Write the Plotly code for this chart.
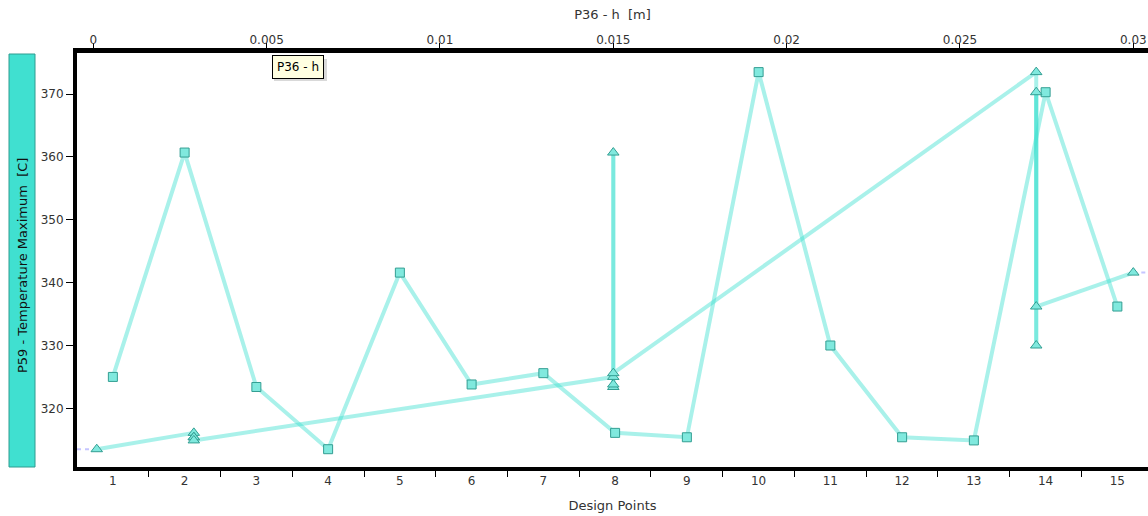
import plotly.graph_objects as go

# Design point table
design_points = list(range(1, 16))
temp_max = [325.0, 360.7, 323.4, 313.5, 341.6, 323.8, 325.6, 316.1,
            315.4, 373.5, 330.0, 315.4, 314.9, 370.3, 336.2]
h_m = [0.015, 0.015, 0.015, 0.0001, 0.030, 0.015, 0.015, 0.0029,
       0.0029, 0.0272, 0.0272, 0.0029, 0.0029, 0.0272, 0.0272]

dp_tick_labels = [str(d) for d in design_points]
h_tick_vals = [0, 0.005, 0.01, 0.015, 0.02, 0.025, 0.03]
h_tick_text = ["0", "0.005", "0.01", "0.015", "0.02", "0.025", "0.03"]
y_tick_vals = [320, 330, 340, 350, 360, 370]

dp_range = [0.5, 15.427]
h_range = [-0.00047, 0.030424]
y_range = [310.67, 376.54]

FONT = "DejaVu Sans"
LINE = "rgba(64,224,208,0.45)"
FILL = "#80E9DE"
EDGE = "#339E92"
TXT = "#333333"
EXT = "rgba(150,150,255,0.55)"

fig = go.Figure()

# Temperature vs design point (bottom axis)
fig.add_trace(go.Scatter(
    x=design_points, y=temp_max, mode="lines+markers",
    line=dict(color=LINE, width=4),
    marker=dict(symbol="square", size=9, color=FILL,
                line=dict(color=EDGE, width=1)),
    xaxis="x", yaxis="y", hoverinfo="skip", showlegend=False))

# Temperature vs h (top axis), sorted by h then design point
order = sorted(range(len(h_m)), key=lambda i: (h_m[i], design_points[i]))
hs = [h_m[i] for i in order]
ts = [temp_max[i] for i in order]

# dashed extension to the plot edges
fig.add_trace(go.Scatter(
    x=[h_range[0], hs[0]], y=[ts[0], ts[0]], mode="lines",
    line=dict(color=EXT, width=2, dash="4px,4px"),
    xaxis="x2", yaxis="y", hoverinfo="skip", showlegend=False))
fig.add_trace(go.Scatter(
    x=[hs[-1], h_range[1]], y=[ts[-1], ts[-1]], mode="lines",
    line=dict(color=EXT, width=2, dash="4px,4px"),
    xaxis="x2", yaxis="y", hoverinfo="skip", showlegend=False))

# each segment stroked separately so overlaps build up
for k in range(len(hs) - 1):
    fig.add_trace(go.Scatter(
        x=[hs[k], hs[k + 1]], y=[ts[k], ts[k + 1]], mode="lines",
        line=dict(color=LINE, width=4),
        xaxis="x2", yaxis="y", hoverinfo="skip", showlegend=False))

fig.add_trace(go.Scatter(
    x=hs, y=ts, mode="markers",
    marker=dict(symbol="triangle-up", size=10, color=FILL,
                line=dict(color=EDGE, width=1)),
    xaxis="x2", yaxis="y", hoverinfo="skip", showlegend=False))

W, H = 1148, 516
ML, MR, MT, MB = 77, 0, 53, 49
pw = W - ML - MR
ph = H - MT - MB

def px_x(p):
    return (p - ML) / pw

def px_y(p):
    return 1 - (p - MT) / ph

fig.update_layout(
    width=W, height=H,
    margin=dict(l=ML, r=MR, t=MT, b=MB, pad=0),
    paper_bgcolor="white", plot_bgcolor="white",
    font=dict(family=FONT, size=12, color=TXT),
    hovermode=False,
    xaxis=dict(
        range=dp_range, tickvals=design_points, ticktext=dp_tick_labels,
        ticks="", showgrid=False, zeroline=False,
        showline=True, linewidth=4, linecolor="black",
        minor=dict(tickvals=[d + 0.5 for d in design_points[:-1]],
                   ticks="outside", ticklen=6, tickwidth=1,
                   tickcolor="black", showgrid=False),
        tickfont=dict(family=FONT, size=12, color=TXT),
        title=dict(text="Design Points", standoff=14,
                   font=dict(family=FONT, size=13, color=TXT)),
    ),
    xaxis2=dict(
        range=h_range, overlaying="x", side="top", anchor="y",
        tickvals=h_tick_vals, ticktext=h_tick_text,
        ticks="outside", ticklen=5, tickwidth=1, tickcolor="black",
        ticklabelstandoff=-6,
        showgrid=False, zeroline=False,
        showline=True, linewidth=5, linecolor="black",
        tickfont=dict(family=FONT, size=12, color=TXT),
        title=dict(text="P36 - h  [m]", standoff=12,
                   font=dict(family=FONT, size=13, color=TXT)),
    ),
    yaxis=dict(
        range=y_range, tickvals=y_tick_vals,
        ticks="outside", ticklen=7, tickwidth=1, tickcolor="black",
        showgrid=False, zeroline=False,
        showline=True, linewidth=4, linecolor="black",
        tickfont=dict(family=FONT, size=12, color=TXT),
    ),
)

# y-axis title on a coloured band
fig.add_shape(type="rect", xref="paper", yref="paper",
              x0=px_x(9), x1=px_x(35), y0=px_y(467), y1=px_y(54),
              fillcolor="#40E0D0", line=dict(color="#2E9C90", width=1),
              layer="above")
fig.add_annotation(text="P59 - Temperature Maximum  [C]", textangle=-90,
                   xref="paper", yref="paper", x=px_x(22), y=px_y(266),
                   xanchor="center", yanchor="middle", showarrow=False,
                   font=dict(family=FONT, size=13, color="#111111"))

# hover label box for the top axis
fig.add_shape(type="rect", xref="paper", yref="paper",
              x0=px_x(274), x1=px_x(327), y0=px_y(81), y1=px_y(59),
              fillcolor="rgba(0,0,0,0.15)", line=dict(width=0), layer="above")
fig.add_annotation(text="P36 - h", xref="paper", yref="paper",
                   x=px_x(297.5), y=px_y(67), xanchor="center", yanchor="middle",
                   showarrow=False,
                   bgcolor="#FFFFE1", bordercolor="black", borderwidth=1,
                   borderpad=4, font=dict(family=FONT, size=12, color="black"))

fig.write_html("out.html")
